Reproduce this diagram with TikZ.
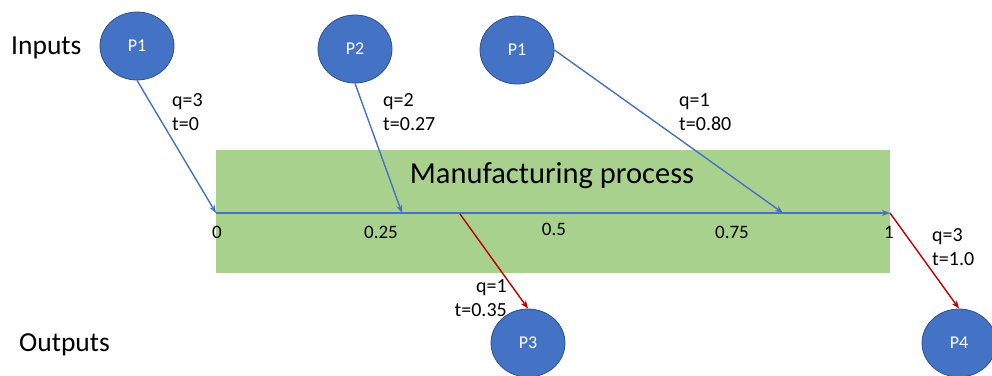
\documentclass[tikz,border=0pt]{standalone}
\usepackage{fontspec}
\setmainfont{Carlito}
\usetikzlibrary{shapes.geometric,arrows.meta}
\definecolor{nodeblue}{HTML}{4472C4}
\definecolor{nodeedge}{HTML}{2F528F}
\definecolor{procgreen}{HTML}{A9D18E}
\definecolor{outred}{HTML}{C00000}
\tikzset{
  part/.style={ellipse, fill=nodeblue, draw=nodeedge, line width=0.8pt,
    minimum width=74pt, minimum height=68pt, inner sep=0pt,
    text=white, font=\fontsize{18}{20}\selectfont},
  inflow/.style={draw=nodeblue, line width=1.4pt, -{Stealth[length=8pt,width=6pt]}},
  outflow/.style={draw=outred, line width=1.4pt, -{Stealth[length=8pt,width=6pt]}},
  qty/.style={anchor=west, align=left, inner sep=0pt, font=\fontsize{20}{24}\selectfont},
  tick/.style={inner sep=0pt, font=\fontsize{19}{22}\selectfont},
  side/.style={anchor=west, inner sep=0pt, font=\fontsize{27.5}{30}\selectfont}
}
\begin{document}
\begin{tikzpicture}[x=1pt, y=-1pt]
\useasboundingbox (0,0) rectangle (992,375);

% process band
\node[fill=procgreen, minimum width=674pt, minimum height=123pt, inner sep=0pt,
  anchor=north west] (proc) at (216,150) {};
\node[inner sep=0pt, font=\fontsize{30.5}{34}\selectfont] (title) at (552,176) {Manufacturing process};

% time axis
\coordinate (t0) at (216,213);
\coordinate (t1) at (890,213);
\coordinate (in2) at (402,213);
\coordinate (in3) at (783,213);
\coordinate (out3) at (460,214);
\draw[inflow] (t0) -- (t1);
\node[tick] (l0) at (217,232) {0};
\node[tick] (l25) at (381,232) {0.25};
\node[tick] (l50) at (554,229) {0.5};
\node[tick] (l75) at (732,232) {0.75};
\node[tick] (l100) at (889,232) {1};

% side captions
\node[side] (inputs) at (11,48) {Inputs};
\node[side] (outputs) at (19,345) {Outputs};

% parts
\node[part] (pa) at (137,46) {P1};
\node[part] (pb) at (355,49) {P2};
\node[part] (pc) at (517,50) {P1};
\node[part] (pd) at (528,343) {P3};
\node[part] (pe) at (959,343) {P4};

% flows
\draw[inflow] (pa.south) -- (t0);
\draw[inflow] (pb.south) -- (in2);
\draw[inflow] (pc.east) -- (in3);
\draw[outflow] (out3) -- (pd.north);
\draw[outflow] (t1) -- (pe.north);

% flow labels
\node[qty] (qa) at (172,112) {q=3\\t=0};
\node[qty] (qb) at (383,112) {q=2\\t=0.27};
\node[qty] (qc) at (679,112) {q=1\\t=0.80};
\node[qty, anchor=east, align=right] (qd) at (507,298) {q=1\\t=0.35};
\node[qty] (qe) at (932,247) {q=3\\t=1.0};
\end{tikzpicture}
\end{document}
